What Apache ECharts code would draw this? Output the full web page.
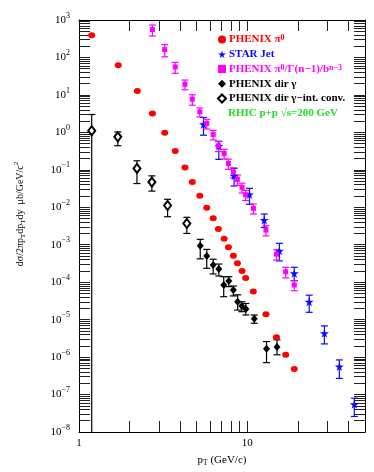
<!DOCTYPE html>
<html><head><meta charset="utf-8">
<script src="https://cdn.jsdelivr.net/npm/echarts@6/dist/echarts.min.js"></script>
<style>html,body{margin:0;padding:0;background:#fff}#c{width:374px;height:472px}</style>
</head><body><div id="c"></div>
<script>
// PHENIX pi0
const pi0X = [1.19,1.71,2.22,2.73,3.23,3.73,4.26,4.71,5.22,5.74,6.27,6.73,7.28,7.72,8.26,8.73,9.3,9.77,10.85,12.9,14.9,16.9,19.0];
const pi0Y = [390,62,12.8,3.19,0.97,0.32,0.116,0.047,0.0203,0.0097,0.00506,0.00262,0.00145,0.00085,0.00051,0.00032,0.0002,0.000129,5.6e-5,1.39e-5,3.4e-6,1.15e-6,4.8e-7];
// STAR jet
const starX = [5.49,6.77,8.34,10.3,12.6,15.5,19.0,23.3,28.7,35.2,43.2];
const starY = [1.65,0.43,0.069,0.022,0.00456,6.9e-4,1.73e-4,3.0e-5,4.3e-6,5.6e-7,5.5e-8];
const starHi = [2.5,0.58,0.109,0.032,0.0066,1.09e-3,2.5e-4,4.5e-5,6.8e-6,8.4e-7,8.0e-8];
const starLo = [0.84,0.19,0.037,0.012,0.0029,3.7e-4,1.1e-4,1.57e-5,2.25e-6,2.7e-7,2.6e-8];
// PHENIX pi0 scaled
const scX = [2.73,3.23,3.73,4.26,4.71,5.22,5.74,6.27,6.73,7.28,7.72,8.26,8.73,9.3,9.77,10.87,12.9,14.9,16.9,19.0];
const scY = [555,162,55.8,19.3,7.7,3.52,1.73,0.88,0.436,0.273,0.148,0.087,0.0555,0.034,0.0216,0.0094,0.00247,5.6e-4,1.9e-4,8.4e-5];
const scErr = [180,58,18,5.6,2.4,0.95,0.5,0.25,0.13,0.08,0.045,0.026,0.017,0.01,0.0065,0.0028,0.00075,0.00017,0.00006,0.000025];
// PHENIX direct photon
const dirX = [5.25,5.74,6.27,6.77,7.24,7.76,8.26,8.76,9.27,9.8,11.0,13.0,15.0];
const dirY = [9.4e-4,5.0e-4,2.88e-4,2.25e-4,8.4e-5,1.08e-4,6.2e-5,3.0e-5,2.3e-5,1.93e-5,1.06e-5,1.66e-6,1.87e-6];
const dirHi = [1.39e-3,7.5e-4,4.1e-4,3.05e-4,1.4e-4,1.4e-4,7.9e-5,4.6e-5,3.0e-5,2.7e-5,1.33e-5,2.6e-6,2.9e-6];
const dirLo = [4.2e-4,2.35e-4,1.66e-4,1.46e-4,4.1e-5,7.6e-5,4.3e-5,1.8e-5,1.63e-5,1.33e-5,8.0e-6,7.1e-7,1.15e-6];
// PHENIX direct photon, internal conversion
const convX = [1.19,1.70,2.21,2.71,3.36,4.37];
const convY = [1.1,0.76,0.109,0.047,0.0112,0.0037];
const convHi = [3.0,1.03,0.174,0.069,0.0163,0.0054];
const convLo = [1e-8,0.44,0.043,0.027,0.0056,0.002];
// axes
const xMin = 1, xMax = 50, yMin = 1e-8, yMax = 1e3;
const xLabels = [1, 10];
const yLabels = [1e-8,1e-7,1e-6,1e-5,1e-4,1e-3,1e-2,1e-1,1,10,100,1000];
const xTicks = [2,3,4,5,6,7,8,9,10,20,30,40];
const yTicks = [];
yLabels.slice(0, -1).forEach(d => { for (let m = 1; m <= 9; m++) if (d * m > yMin) yTicks.push(d * m); });

const FONT = 'Liberation Serif';
const STAR = 'path://M50,0 L61,35 L98,35 L68,57 L79,91 L50,70 L21,91 L32,57 L2,35 L39,35 Z';
const RED = '#ff0000', BLUE = '#0a0aff', MAG = '#ff00ff', GREEN = '#22dd22';

function errSeries(name, X, Y, lo, hi, color) {
  return {
    type: 'custom', name: name, silent: true, z: 2, clip: true,
    data: X.map((x, i) => [x, Y[i], lo[i], hi[i]]),
    encode: { x: 0, y: 1 },
    renderItem: function (params, api) {
      const x = api.value(0), l = api.value(2), h = api.value(3);
      const p1 = api.coord([x, h]), p2 = api.coord([x, l]);
      const w = 3.5, st = { stroke: color, lineWidth: 1.2 };
      const ch = [
        { type: 'line', shape: { x1: p1[0], y1: p1[1], x2: p2[0], y2: p2[1] }, style: st },
        { type: 'line', shape: { x1: p1[0] - w, y1: p1[1], x2: p1[0] + w, y2: p1[1] }, style: st }
      ];
      if (l > yMin) ch.push({ type: 'line', shape: { x1: p2[0] - w, y1: p2[1], x2: p2[0] + w, y2: p2[1] }, style: st });
      return { type: 'group', children: ch };
    }
  };
}

const TICK = { show: true, inside: true, length: 11, lineStyle: { color: '#222', width: 1 } };
const LINE = { show: true, onZero: false, lineStyle: { color: '#000', width: 1 } };
const xBase = { type: 'log', logBase: 10, min: xMin, max: xMax, splitLine: { show: false }, axisLine: LINE, z: 4 };
const yBase = { type: 'log', logBase: 10, min: yMin, max: yMax, splitLine: { show: false }, axisLine: LINE, z: 4 };

const LF = { fontFamily: FONT, fontSize: 11, fontWeight: 'bold', lineHeight: 11 };
const LS = { fontFamily: FONT, fontSize: 8, fontWeight: 'bold', lineHeight: 5, verticalAlign: 'top' };
const legendText = {
  'PHENIX π0': '{r|PHENIX π}{rs|0}',
  'STAR Jet': '{b|STAR Jet}',
  'PHENIX π0/Γ(n−1)/b^(n−3)': '{m|PHENIX π}{ms|0}{m|/Γ(n−1)/b}{ms|n−3}',
  'PHENIX dir γ': '{k|PHENIX dir γ}',
  'PHENIX dir γ−int. conv.': '{k|PHENIX dir γ−int. conv.}'
};

const chart = echarts.init(document.getElementById('c'), null, { renderer: 'canvas' });
chart.setOption({
  animation: false,
  backgroundColor: '#fff',
  grid: { left: 79, right: 9, top: 20, bottom: 40, show: false },
  xAxis: [Object.assign({}, xBase, {
    position: 'bottom',
    axisTick: Object.assign({ customValues: xTicks }, TICK),
    axisLabel: { customValues: xLabels, fontFamily: FONT, fontSize: 11, color: '#000', margin: 6, formatter: v => String(Math.round(v)) },
    name: '{n|p}{sub|T}{n| (GeV/c)}', nameLocation: 'middle', nameGap: 21,
    nameTextStyle: { rich: {
      n: { fontFamily: FONT, fontSize: 11, color: '#000', lineHeight: 14 },
      sub: { fontFamily: FONT, fontSize: 7.5, color: '#000', lineHeight: 6, verticalAlign: 'bottom' } } }
  }), Object.assign({}, xBase, {
    position: 'top',
    axisTick: Object.assign({ customValues: xTicks }, TICK),
    axisLabel: { show: false }
  })],
  yAxis: [Object.assign({}, yBase, {
    position: 'left',
    axisTick: Object.assign({ customValues: yTicks }, TICK),
    axisLabel: {
      customValues: yLabels, margin: 9, color: '#000',
      formatter: v => { const e = Math.round(Math.log10(v)); return '{b|10}{s|' + String(e).replace('-', '\u2212') + '}'; },
      rich: {
        b: { fontFamily: FONT, fontSize: 11, color: '#000', lineHeight: 17 },
        s: { fontFamily: FONT, fontSize: 8, color: '#000', lineHeight: 7, verticalAlign: 'top' }
      }
    },
    name: '{n|dσ/2πp}{sub|T}{n|dp}{sub|T}{n|dy  μb/GeV/c}{sup|2}', nameLocation: 'middle', nameGap: 52, nameRotate: 90,
    nameTextStyle: { padding: [0, 0, 0, 24], rich: {
      n: { fontFamily: FONT, fontSize: 10, color: '#000', lineHeight: 14 },
      sub: { fontFamily: FONT, fontSize: 7, color: '#000', lineHeight: 6, verticalAlign: 'bottom' },
      sup: { fontFamily: FONT, fontSize: 7, color: '#000', lineHeight: 6, verticalAlign: 'top' } } }
  }), Object.assign({}, yBase, {
    position: 'right',
    axisTick: Object.assign({ customValues: yTicks }, TICK),
    axisLabel: { show: false }
  })],
  legend: {
    orient: 'vertical', left: 217, top: 34, padding: 0, itemGap: 3.75, itemWidth: 8, itemHeight: 8,
    selectedMode: false,
    data: [
      { name: 'PHENIX π0', icon: 'circle' },
      { name: 'STAR Jet', icon: STAR },
      { name: 'PHENIX π0/Γ(n−1)/b^(n−3)', icon: 'rect' },
      { name: 'PHENIX dir γ', icon: 'diamond' },
      { name: 'PHENIX dir γ−int. conv.', icon: 'emptyDiamond' }
    ],
    formatter: n => legendText[n],
    textStyle: Object.assign({}, LF, { padding: [0, 0, 0, -2], rich: {
      r: Object.assign({ color: RED }, LF), rs: Object.assign({ color: RED }, LS),
      b: Object.assign({ color: BLUE }, LF),
      m: Object.assign({ color: MAG }, LF), ms: Object.assign({ color: MAG }, LS),
      k: Object.assign({ color: '#000' }, LF)
    } })
  },
  graphic: [{
    type: 'text', left: 228, top: 108, z: 10,
    style: { text: 'RHIC p+p √s=200 GeV', fill: GREEN, font: 'bold 11px "Liberation Serif"' }
  }],
  series: [
    errSeries('errStar', starX, starY, starLo, starHi, BLUE),
    errSeries('errSc', scX, scY, scY.map((v, i) => v - scErr[i]), scY.map((v, i) => v + scErr[i]), MAG),
    errSeries('errDir', dirX, dirY, dirLo, dirHi, '#000'),
    errSeries('errConv', convX, convY, convLo, convHi, '#000'),
    { type: 'scatter', name: 'PHENIX π0', data: pi0X.map((x, i) => [x, pi0Y[i]]), symbol: 'circle', symbolSize: [7, 6], itemStyle: { color: RED, opacity: 1 }, z: 5 },
    { type: 'scatter', name: 'STAR Jet', data: starX.map((x, i) => [x, starY[i]]), symbol: STAR, symbolSize: 9, itemStyle: { color: BLUE, opacity: 1 }, z: 5 },
    { type: 'scatter', name: 'PHENIX π0/Γ(n−1)/b^(n−3)', data: scX.map((x, i) => [x, scY[i]]), symbol: 'rect', symbolSize: 5, itemStyle: { color: MAG, opacity: 1 }, z: 5 },
    { type: 'scatter', name: 'PHENIX dir γ', data: dirX.map((x, i) => [x, dirY[i]]), symbol: 'diamond', symbolSize: [7, 8], itemStyle: { color: '#000', opacity: 1 }, z: 5 },
    { type: 'scatter', name: 'PHENIX dir γ−int. conv.', data: convX.map((x, i) => [x, convY[i]]), symbol: 'emptyDiamond', symbolSize: [7, 9], itemStyle: { color: '#000', borderColor: '#000', borderWidth: 0.9, opacity: 1 }, z: 5 }
  ]
});
</script></body></html>
